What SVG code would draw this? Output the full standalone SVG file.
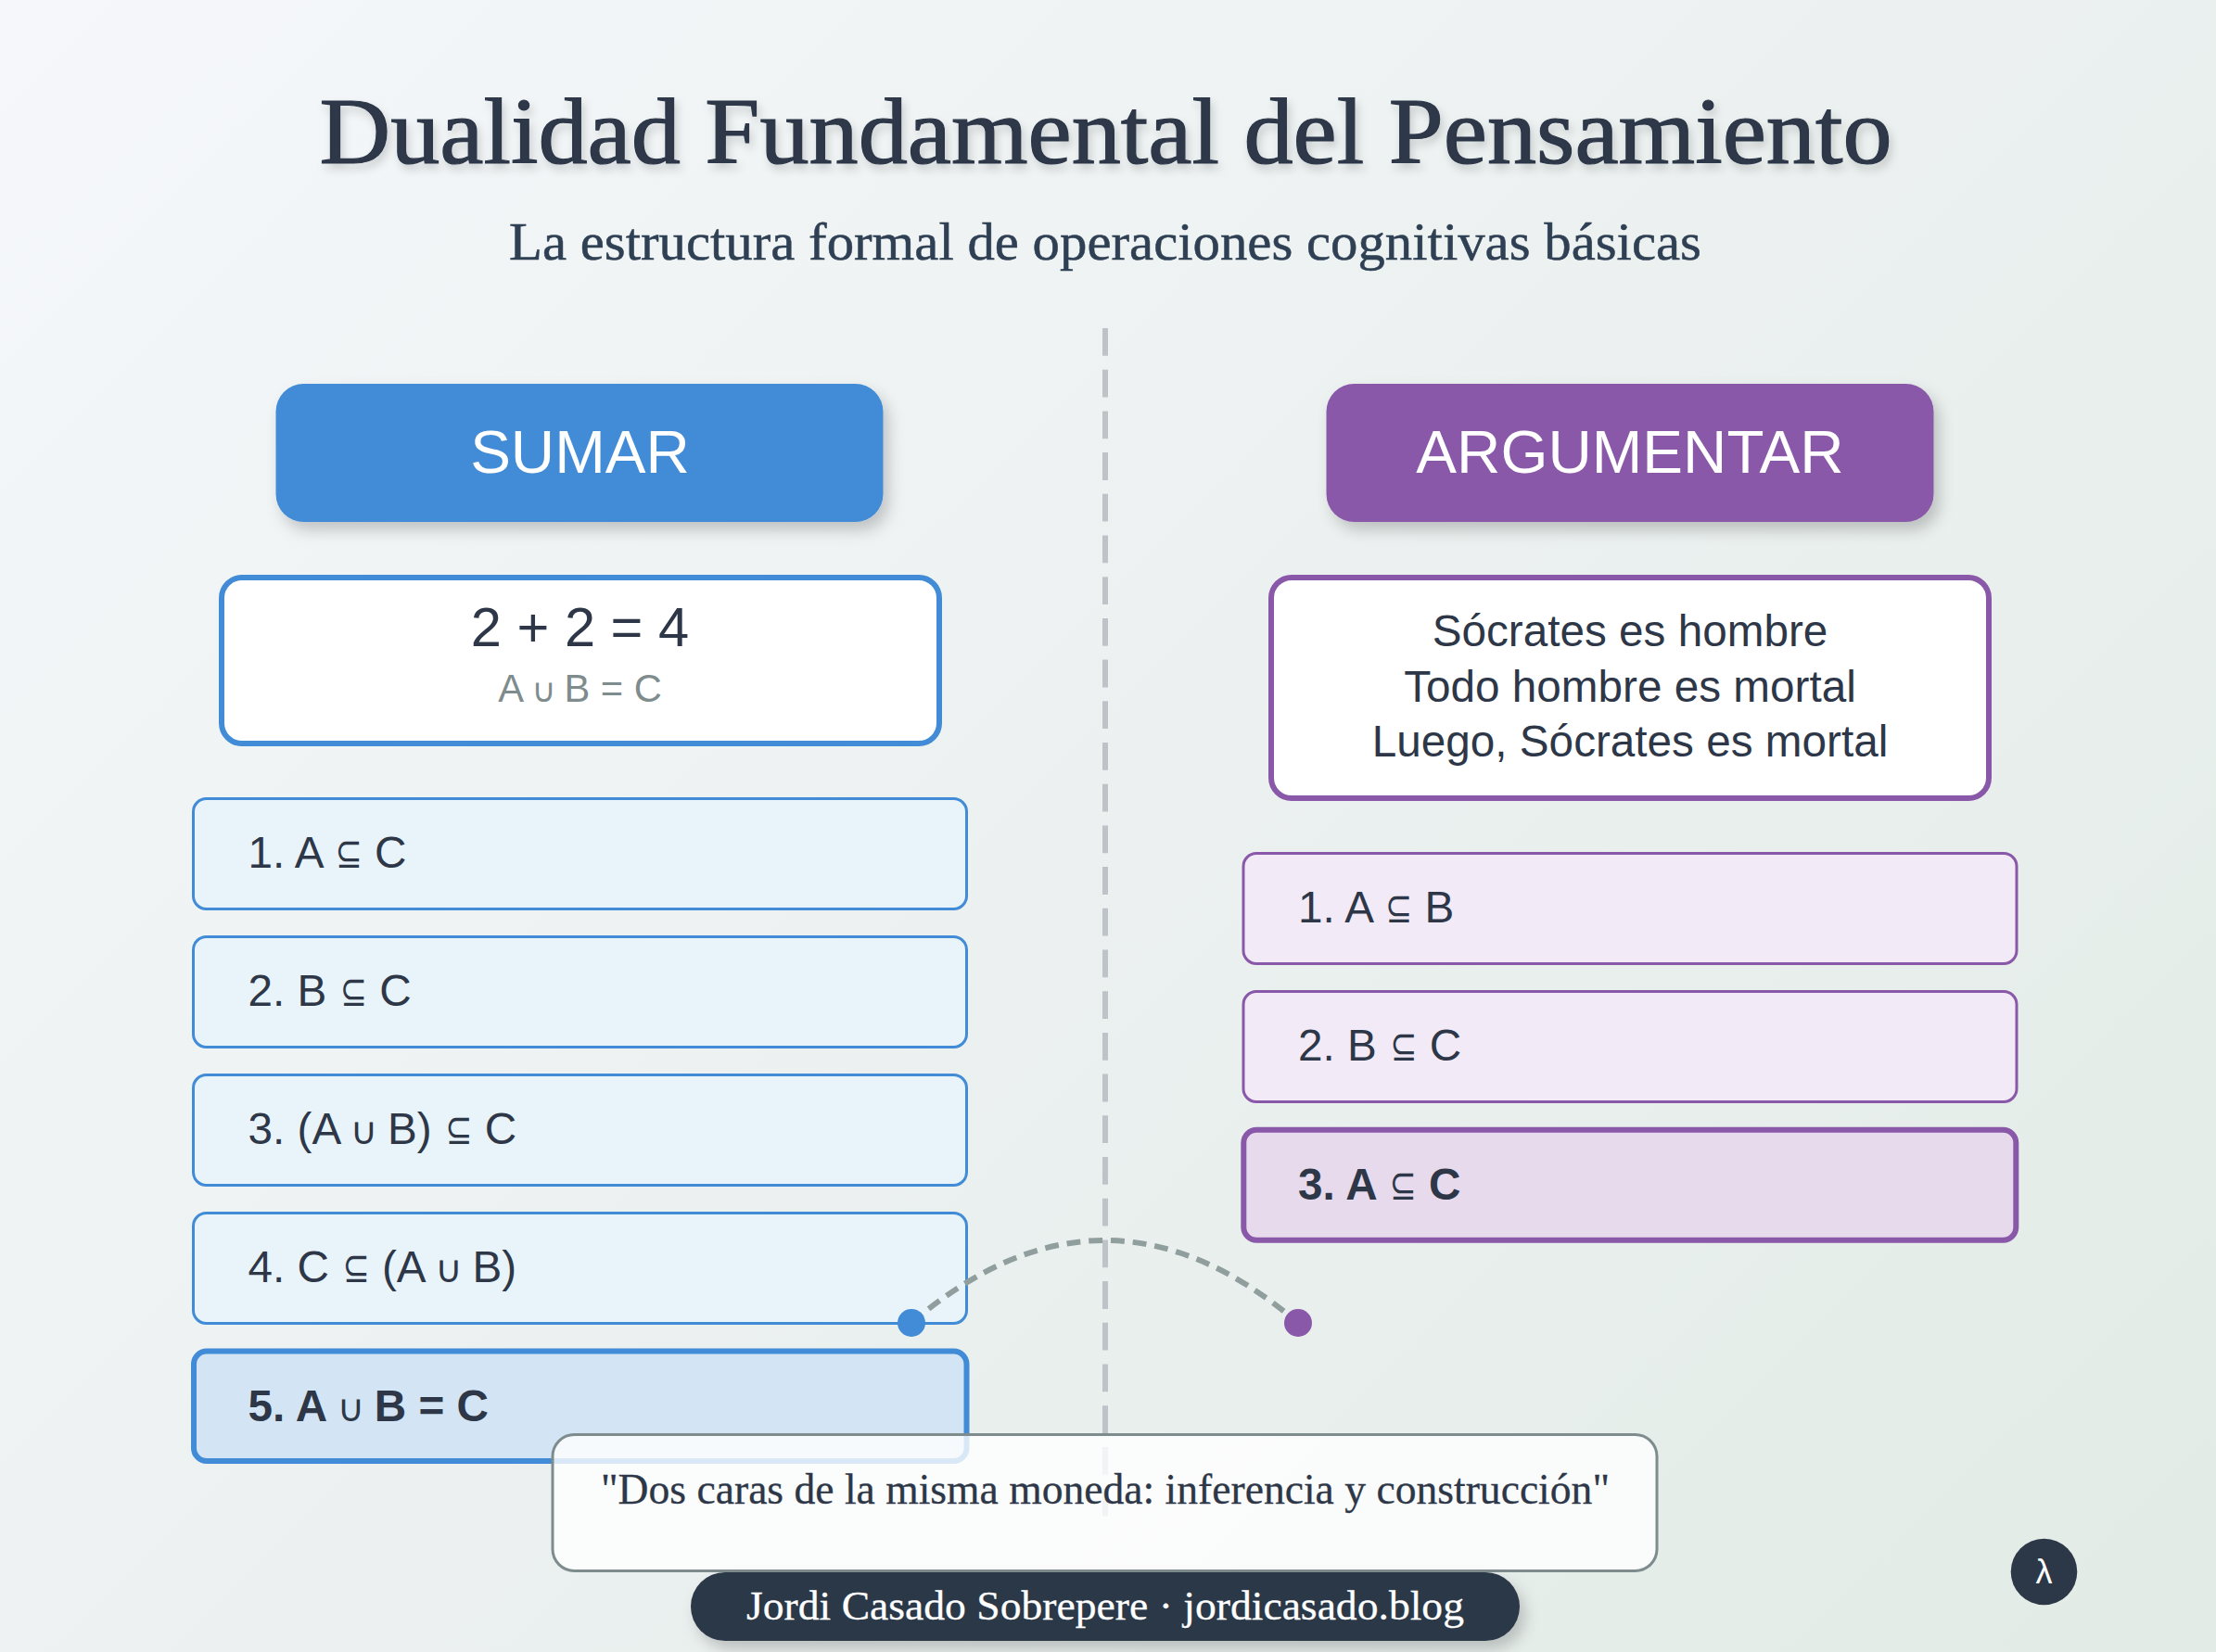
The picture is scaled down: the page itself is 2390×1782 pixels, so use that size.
<svg xmlns="http://www.w3.org/2000/svg" width="2390" height="1782" viewBox="0 0 2390 1782">
<defs>
<linearGradient id="bg" gradientUnits="userSpaceOnUse" x1="152" y1="-152" x2="2238" y2="1934"><stop offset="0" stop-color="#f5f7fa"/><stop offset="1" stop-color="#e2ebe6"/></linearGradient>
<filter id="sh" x="-10%" y="-20%" width="120%" height="150%"><feDropShadow dx="6" dy="9" stdDeviation="8" flood-color="#000" flood-opacity="0.2"/></filter>
<filter id="ts" x="-5%" y="-30%" width="110%" height="160%"><feDropShadow dx="3" dy="6" stdDeviation="5" flood-color="#000" flood-opacity="0.16"/></filter>
</defs>
<style>
.serif{font-family:"Liberation Serif",serif}
.sans{font-family:"Liberation Sans",Arial,sans-serif}
text{fill:#2d3748}
.mid{text-anchor:middle}
.head{fill:#fff;font-size:65.56px}
.item{font-size:47.68px}
.b{font-weight:bold}
.cup{font-family:"DejaVu Sans",sans-serif;font-size:.85em;font-weight:normal;letter-spacing:-.067em}
.sub{font-family:"DejaVu Sans",sans-serif;font-size:.965em;font-weight:normal}
.a{fill:#e8f3fa;stroke:#428bd6;stroke-width:3}
.a5{fill:#d3e5f4;stroke:#428bd6;stroke-width:6}
.p{fill:#f2ebf7;stroke:#8a58a8;stroke-width:3}
.p3{fill:#e7daec;stroke:#8a58a8;stroke-width:6}
</style>
<rect width="2390" height="1782" fill="url(#bg)"/>
<text id="title" class="serif mid" x="1192.5" y="176" font-size="101" textLength="1696" lengthAdjust="spacingAndGlyphs" stroke="#2d3748" stroke-width="1.2" filter="url(#ts)">Dualidad Fundamental del Pensamiento</text>
<text id="subtitle" class="serif mid" x="1192" y="280" font-size="57" textLength="1286" lengthAdjust="spacingAndGlyphs" stroke="#2f4054" stroke-width="0.5" style="fill:#2f4054">La estructura formal de operaciones cognitivas básicas</text>
<g id="connectors">
<line x1="1192" y1="354" x2="1192" y2="1636" stroke="#bdc3c7" stroke-width="6" stroke-dasharray="29.8 14.9"/>
</g>
<g id="sumar-head"><rect x="297.5" y="414" width="655" height="149" rx="30" fill="#428bd6" filter="url(#sh)"/><text class="sans mid head" x="625.5" y="510">SUMAR</text></g>
<g id="argumentar-head"><rect x="1430.5" y="414" width="655" height="149" rx="30" fill="#8a58a8" filter="url(#sh)"/><text class="sans mid head" x="1758" y="510">ARGUMENTAR</text></g>
<g id="sumar-example"><rect x="239" y="623" width="774" height="179" rx="22" fill="#fff" stroke="#428bd6" stroke-width="6"/><text class="sans mid" x="625.5" y="697" font-size="59.6">2 + 2 = 4</text><text class="sans mid" x="625.5" y="757" font-size="41.7" style="fill:#7f8c8d">A <tspan class="cup" dx="-1">∪</tspan> B = C</text></g>
<g id="argumentar-example"><rect x="1371" y="623" width="774" height="238" rx="22" fill="#fff" stroke="#8a58a8" stroke-width="6"/><text class="sans mid item" x="1758" y="697">Sócrates es hombre</text><text class="sans mid item" x="1758" y="757">Todo hombre es mortal</text><text class="sans mid item" x="1758" y="816">Luego, Sócrates es mortal</text></g>
<g id="s1"><rect class="a" x="208.5" y="861.5" width="834" height="119" rx="14"/><text class="sans item" x="267.5" y="936">1. A <tspan class="sub" dx="1.5" textLength="29" lengthAdjust="spacingAndGlyphs">⊆</tspan> C</text></g>
<g id="s2"><rect class="a" x="208.5" y="1010.5" width="834" height="119" rx="14"/><text class="sans item" x="267.5" y="1085">2. B <tspan class="sub" dx="1.5" textLength="29" lengthAdjust="spacingAndGlyphs">⊆</tspan> C</text></g>
<g id="s3"><rect class="a" x="208.5" y="1159.5" width="834" height="119" rx="14"/><text class="sans item" x="267.5" y="1234">3. (A <tspan class="cup" dx="-1">∪</tspan> B) <tspan class="sub" dx="1.5" textLength="29" lengthAdjust="spacingAndGlyphs">⊆</tspan> C</text></g>
<g id="s4"><rect class="a" x="208.5" y="1308.5" width="834" height="119" rx="14"/><text class="sans item" x="267.5" y="1383">4. C <tspan class="sub" dx="1.5" textLength="29" lengthAdjust="spacingAndGlyphs">⊆</tspan> (A <tspan class="cup" dx="-1">∪</tspan> B)</text></g>
<g id="s5"><rect class="a5" x="209" y="1457.5" width="833.5" height="118.5" rx="14"/><text class="sans item b" x="267.5" y="1532.5">5. A <tspan class="cup" dx="-1">∪</tspan> B = C</text></g>
<g id="a1"><rect class="p" x="1341" y="920.5" width="834" height="119" rx="14"/><text class="sans item" x="1400" y="995">1. A <tspan class="sub" dx="1.5" textLength="29" lengthAdjust="spacingAndGlyphs">⊆</tspan> B</text></g>
<g id="a2"><rect class="p" x="1341" y="1069.5" width="834" height="119" rx="14"/><text class="sans item" x="1400" y="1144">2. B <tspan class="sub" dx="1.5" textLength="29" lengthAdjust="spacingAndGlyphs">⊆</tspan> C</text></g>
<g id="a3"><rect class="p3" x="1341.3" y="1218.7" width="833" height="119" rx="14"/><text class="sans item b" x="1400" y="1293.5">3. A <tspan class="sub" dx="1.5" textLength="29" lengthAdjust="spacingAndGlyphs">⊆</tspan> C</text></g>
<g id="link">
<path d="M983 1427Q1191.5 1249 1400 1427" fill="none" stroke="#919e9e" stroke-width="6" stroke-dasharray="14.9 8.9"/>
<circle cx="983" cy="1427" r="15" fill="#428bd6"/>
<circle cx="1400" cy="1427" r="15" fill="#8a58a8"/>
</g>
<g id="quote"><rect x="596" y="1547.5" width="1191" height="147" rx="23.5" fill="#fff" fill-opacity="0.8" stroke="#7f8c8d" stroke-width="3"/><text class="serif mid" x="1192" y="1621.5" font-size="46" textLength="1088" lengthAdjust="spacingAndGlyphs" stroke="#2d3748" stroke-width="0.3">"Dos caras de la misma moneda: inferencia y construcción"</text></g>
<g id="footer"><rect x="745" y="1696" width="894" height="74" rx="37" fill="#2c3747" filter="url(#sh)"/><text class="serif mid" x="1192" y="1746.5" font-size="45" textLength="774" lengthAdjust="spacingAndGlyphs" stroke="#fff" stroke-width="0.3" style="fill:#fff">Jordi Casado Sobrepere · jordicasado.blog</text></g>
<g id="lambda"><circle cx="2204.5" cy="1695.5" r="35.8" fill="#2c3747"/><text class="sans mid" x="2204.5" y="1708" font-size="36" style="fill:#fff">λ</text></g>
</svg>
